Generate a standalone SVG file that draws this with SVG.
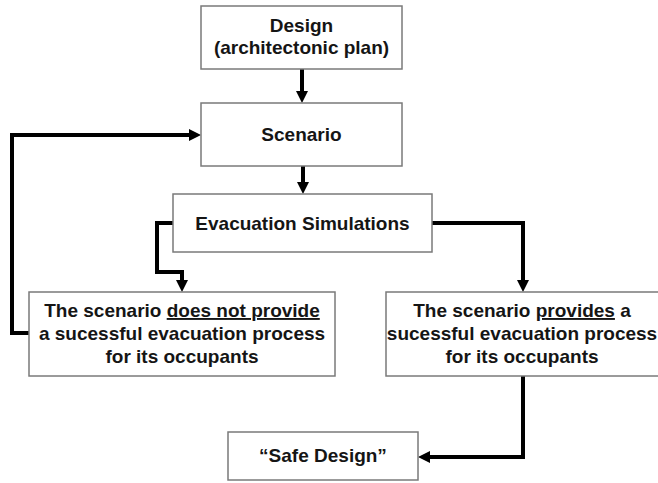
<svg xmlns="http://www.w3.org/2000/svg" width="658" height="483" viewBox="0 0 658 483">
<style>
.box{fill:#fff;stroke:#7a7a7a;stroke-width:1.5}
.t{font-family:"Liberation Sans",Arial,sans-serif;font-weight:bold;font-size:19px;fill:#151515;text-anchor:middle}
.c{fill:none;stroke:#000;stroke-width:4;stroke-linejoin:miter}
.u{text-decoration:underline}
</style>
<defs>
<marker id="ah" markerUnits="userSpaceOnUse" markerWidth="12" markerHeight="12" refX="0" refY="6" orient="auto">
<path d="M0,0 L12,6 L0,12 z" fill="#000"/>
</marker>
</defs>
<rect width="658" height="483" fill="#fff"/>
<g id="connectors">
<path class="c" d="M302,69 V91" marker-end="url(#ah)"/>
<path class="c" d="M303,166 V182" marker-end="url(#ah)"/>
<path class="c" d="M174,223 H157 V272 H182 V280" marker-end="url(#ah)"/>
<path class="c" d="M432,223 H523 V280" marker-end="url(#ah)"/>
<path class="c" d="M29,333 H12 V135 H189" marker-end="url(#ah)"/>
<path class="c" d="M523,376 V457 H430" marker-end="url(#ah)"/>
</g>
<g id="design">
<rect class="box" x="201" y="6" width="201" height="63"/>
<text class="t" x="301.5" y="32">Design</text>
<text class="t" x="301.5" y="54">(architectonic plan)</text>
</g>
<g id="scenario">
<rect class="box" x="201" y="103" width="201" height="63"/>
<text class="t" x="301.5" y="141">Scenario</text>
</g>
<g id="evacuation">
<rect class="box" x="173" y="194" width="259" height="58"/>
<text class="t" x="302.5" y="230">Evacuation Simulations</text>
</g>
<g id="fail">
<rect class="box" x="29" y="292" width="306" height="84"/>
<text class="t" x="182" y="317">The scenario <tspan class="u">does not provide</tspan></text>
<text class="t" x="182" y="340">a sucessful evacuation process</text>
<text class="t" x="182" y="363">for its occupants</text>
</g>
<g id="success">
<rect class="box" x="386" y="292" width="280" height="84"/>
<text class="t" x="522" y="317">The scenario <tspan class="u">provides</tspan> a</text>
<text class="t" x="522" y="340">sucessful evacuation process</text>
<text class="t" x="522" y="363">for its occupants</text>
</g>
<g id="safe">
<rect class="box" x="228" y="432" width="190" height="48"/>
<text class="t" x="323" y="462">“Safe Design”</text>
</g>
</svg>
